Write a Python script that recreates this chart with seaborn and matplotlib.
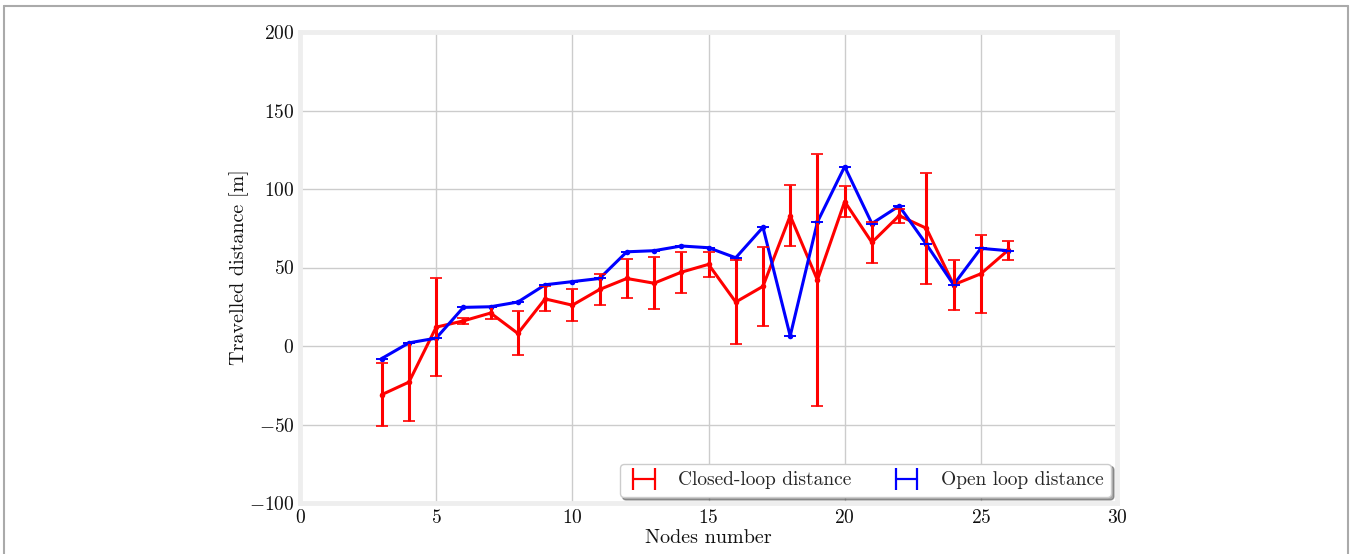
import numpy as np
import pandas as pd
import seaborn as sns
import matplotlib
matplotlib.use("Agg")
import matplotlib.pyplot as plt
from matplotlib.lines import Line2D

nodes = [3, 4, 5, 6, 7, 8, 9, 10, 11, 12, 13, 14, 15, 16, 17, 18, 19, 20, 21, 22, 23, 24, 25, 26]
closed_mean = [-31, -23, 12, 16, 21, 8, 30, 26, 36, 43, 40, 47, 52, 28, 38, 83, 42, 92, 66, 83, 75, 39, 46, 61]
closed_err = [20, 25, 31, 2, 4, 14, 8, 10, 10, 12.5, 16.5, 13, 8, 27, 25, 19.5, 80, 10, 13, 4.5, 35.5, 16, 25, 6]
open_mean = [-8, 2, 5, 24.6, 25, 28, 39, 41, 43, 60, 60.7, 63.7, 62.6, 56.2, 75.6, 6.4, 79, 114.3, 78, 89.2, 64.8, 39, 62.2, 60.7]
open_err = [0] * len(nodes)

series_labels = ["Closed-loop distance", "Open loop distance"]
series_colors = ["#ff0000", "#0000ff"]
xticks = [0, 5, 10, 15, 20, 25, 30]
yticks = [-100, -50, 0, 50, 100, 150, 200]

df = pd.concat([
    pd.DataFrame({"nodes": nodes, "dist": closed_mean, "err": closed_err, "series": series_labels[0]}),
    pd.DataFrame({"nodes": nodes, "dist": open_mean, "err": open_err, "series": series_labels[1]}),
])

sns.set_theme(style="whitegrid")
plt.rcParams["font.family"] = ["cmr10", "DejaVu Serif"]
plt.rcParams["axes.formatter.use_mathtext"] = True
plt.rcParams["mathtext.fontset"] = "cm"

fig = plt.figure(figsize=(13.52, 5.54), dpi=100)
ax = fig.add_axes([300 / 1352, 1 - 503 / 554, 817 / 1352, 471 / 554])

for lab, col in zip(series_labels, series_colors):
    sub = df[df["series"] == lab]
    sns.lineplot(data=sub, x="nodes", y="dist", ax=ax, color=col, lw=2.2,
                 marker="o", markersize=4, markeredgewidth=0, legend=False,
                 errorbar=None, sort=False)
    ax.errorbar(sub["nodes"], sub["dist"], yerr=sub["err"], fmt="none",
                ecolor=col, elinewidth=2.2, capsize=4, capthick=1.2, zorder=3)

ax.set_xlim(0, 30)
ax.set_ylim(-100, 200)
ax.set_xticks(xticks)
ax.set_yticks(yticks)
ax.grid(True, color="#cccccc", lw=1)
for s in ax.spines.values():
    s.set_color("#eeeeee")
    s.set_linewidth(3.5)
ax.tick_params(axis="both", labelsize=14, length=0, pad=4, colors="#111111")
ax.set_xlabel("Nodes number", fontsize=14.5, labelpad=2, color="#111111")
ax.set_ylabel("Travelled distance [m]", fontsize=14.5, labelpad=0, color="#111111")

handles = [
    Line2D([], [], color=c, lw=1.6, marker="|", markersize=16, markeredgewidth=1.6)
    for c in series_colors
]
leg = ax.legend(handles, series_labels, loc="lower right", ncol=2, fontsize=14,
                frameon=True, shadow=True, fancybox=True, framealpha=1,
                edgecolor="#cccccc", columnspacing=2.0, handlelength=1.7,
                handletextpad=0.9, numpoints=2, borderaxespad=0.3)
leg.get_frame().set_facecolor("white")

# figure border (left, top, right)
for xs, ys in [([4 / 1352, 4 / 1352], [0, 1 - 6 / 554]),
               ([4 / 1352, 1348 / 1352], [1 - 6 / 554, 1 - 6 / 554]),
               ([1348 / 1352, 1348 / 1352], [0, 1 - 6 / 554])]:
    fig.add_artist(Line2D(xs, ys, transform=fig.transFigure, color="#aaaaaa", lw=1.5))

fig.savefig("out.png", dpi=100)
